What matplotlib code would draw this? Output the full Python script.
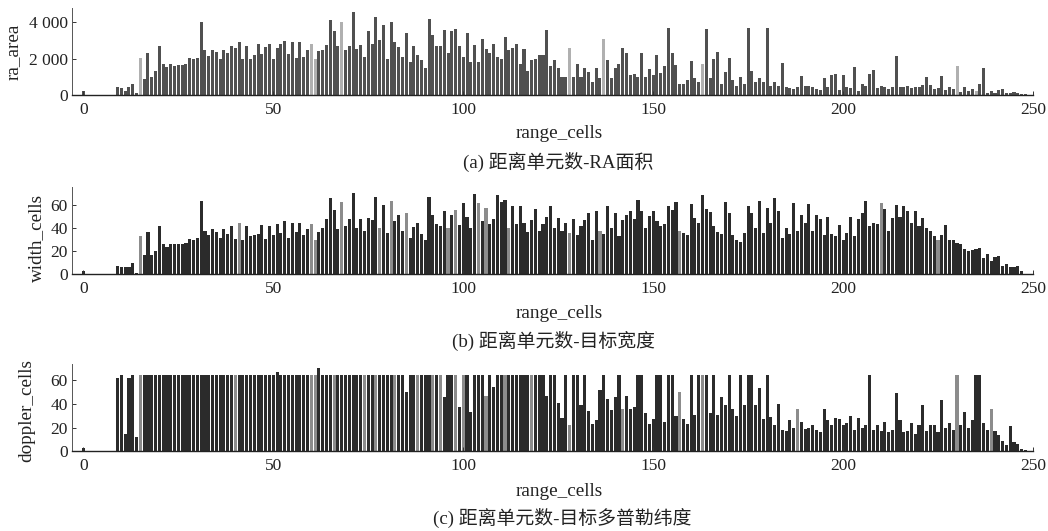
#!/usr/bin/env python3

import matplotlib
matplotlib.use("Agg")
import matplotlib.pyplot as plt
from matplotlib.ticker import FuncFormatter

# one value per range cell
ra_area = [
    200, 0, 0, 0, 0, 0, 0, 0, 0, 420,
    350, 180, 420, 600, 100, 2050, 850, 2300, 1000, 1300,
    2700, 1700, 1550, 1700, 1600, 1650, 1650, 1700, 2050, 1950,
    2050, 4020, 2500, 2150, 2500, 2350, 2000, 2500, 2300, 2700,
    2600, 2900, 1950, 2700, 2000, 2200, 2800, 2250, 2650, 2800,
    2000, 2600, 2800, 2950, 2250, 2900, 2050, 2900, 2100, 2500,
    2800, 1950, 2400, 2500, 2750, 4150, 3550, 2700, 4000, 2450,
    2700, 4590, 2550, 2750, 2100, 3500, 2800, 4310, 3050, 3850,
    2000, 4010, 2900, 2650, 2100, 3420, 1800, 2700, 2200, 1900,
    1500, 4190, 3280, 2700, 2700, 3600, 2300, 3500, 3650, 2700,
    2100, 3400, 1800, 2750, 1800, 3100, 2550, 2300, 2800, 2100,
    2000, 3170, 2450, 2600, 2800, 1700, 2550, 1300, 1900, 1950,
    2200, 2200, 3570, 1600, 1900, 1500, 1000, 1000, 2580, 1000,
    1700, 1000, 1500, 1250, 700, 1500, 900, 3100, 1900, 900,
    1500, 1700, 2600, 2300, 1100, 1150, 1000, 2300, 1000, 1400,
    1100, 2200, 1200, 1600, 3700, 2300, 1650, 600, 600, 800,
    1850, 900, 700, 1700, 3660, 900, 1950, 2350, 600, 1250,
    2050, 800, 500, 1000, 600, 3700, 1300, 700, 900, 700,
    3700, 500, 700, 500, 1750, 400, 350, 300, 400, 1050,
    500, 500, 400, 300, 250, 900, 400, 1100, 1150, 250,
    1100, 400, 350, 1530, 200, 600, 500, 1170, 1370, 350,
    500, 400, 300, 400, 2130, 450, 400, 500, 350, 400,
    450, 550, 1000, 550, 300, 350, 1030, 250, 400, 300,
    1600, 150, 400, 200, 300, 200, 600, 1500, 100, 200,
    100, 250, 300, 80, 100, 150, 100, 50, 40, 0,
]
width_cells = [
    3, 0, 0, 0, 0, 0, 0, 0, 0, 7,
    6, 6, 6, 10, 1, 33, 17, 37, 17, 20,
    42, 26, 24, 26, 26, 26, 26, 27, 31, 30,
    32, 64, 38, 34, 39, 37, 32, 39, 35, 42,
    31, 45, 30, 42, 33, 34, 35, 43, 31, 42,
    34, 44, 36, 46, 32, 45, 37, 45, 34, 39,
    44, 30, 37, 40, 48, 66, 56, 39, 63, 42,
    48, 71, 40, 48, 38, 49, 47, 67, 40, 60,
    36, 64, 46, 52, 38, 53, 32, 41, 45, 35,
    30, 67, 52, 44, 42, 55, 40, 52, 56, 43,
    62, 50, 40, 70, 62, 46, 58, 44, 48, 69,
    63, 65, 40, 59, 44, 59, 45, 37, 47, 57,
    38, 44, 50, 59, 40, 49, 38, 45, 36, 48,
    34, 42, 47, 53, 30, 55, 38, 35, 59, 40,
    53, 33, 47, 52, 55, 48, 65, 55, 40, 51,
    55, 46, 42, 44, 59, 56, 63, 38, 36, 34,
    61, 49, 45, 69, 57, 54, 42, 37, 35, 63,
    53, 34, 30, 28, 36, 59, 53, 40, 64, 36,
    58, 45, 66, 55, 32, 40, 35, 62, 38, 52,
    45, 61, 38, 52, 48, 34, 50, 35, 33, 43,
    30, 36, 50, 33, 48, 53, 64, 42, 45, 44,
    62, 57, 38, 49, 60, 50, 59, 55, 45, 55,
    42, 49, 40, 38, 33, 30, 34, 43, 30, 30,
    27, 26, 22, 20, 21, 22, 23, 14, 18, 12,
    15, 16, 7, 9, 6, 6, 7, 3, 0, 0,
]
doppler_cells = [
    3, 0, 0, 0, 0, 0, 0, 0, 0, 62,
    64, 15, 62, 64, 12, 64, 64, 64, 64, 64,
    64, 64, 64, 64, 64, 64, 64, 64, 64, 64,
    64, 64, 64, 64, 64, 64, 64, 64, 64, 64,
    64, 64, 64, 64, 64, 64, 64, 64, 64, 64,
    64, 67, 64, 64, 64, 64, 64, 64, 64, 64,
    64, 64, 70, 64, 64, 64, 64, 64, 64, 64,
    64, 64, 64, 64, 64, 64, 64, 64, 64, 64,
    64, 64, 64, 64, 64, 50, 64, 64, 64, 64,
    64, 64, 64, 64, 64, 46, 64, 64, 64, 37,
    64, 64, 33, 64, 64, 64, 47, 64, 54, 64,
    64, 64, 64, 64, 64, 64, 64, 64, 64, 64,
    64, 64, 47, 64, 64, 41, 28, 64, 22, 64,
    64, 39, 64, 34, 23, 26, 52, 64, 44, 35,
    46, 64, 36, 47, 36, 37, 64, 64, 32, 23,
    27, 64, 64, 25, 64, 64, 30, 50, 27, 23,
    64, 31, 64, 64, 64, 32, 64, 31, 46, 39,
    64, 36, 30, 64, 39, 64, 64, 39, 53, 27,
    64, 29, 22, 40, 18, 17, 26, 20, 36, 25,
    19, 20, 22, 18, 16, 36, 26, 22, 28, 27,
    22, 24, 30, 18, 28, 20, 22, 64, 18, 22,
    17, 25, 16, 18, 49, 26, 16, 17, 24, 15,
    22, 39, 17, 22, 22, 16, 43, 20, 24, 18,
    64, 22, 33, 20, 26, 64, 64, 24, 18, 36,
    17, 14, 9, 5, 21, 8, 6, 2, 1, 0,
]
cells = list(range(len(ra_area)))

x_ticks = [0, 50, 100, 150, 200, 250]
y_labels = ["ra_area", "width_cells", "doppler_cells"]
captions = [
    "(a) 距离单元数-RA面积",
    "(b) 距离单元数-目标宽度",
    "(c) 距离单元数-目标多普勒纬度",
]

# cells printed lighter in the original
light_a = [15, 60, 61, 68, 128, 137, 163, 230, 235]
light_b = [15, 41, 60, 61, 68, 78, 81, 85, 96, 98, 104, 106, 112, 128, 136, 157, 210, 225]
light_c = [15, 40, 60, 61, 66, 74, 77, 82, 88, 92, 94, 98, 100, 106, 111, 118, 128,
           142, 157, 163, 188, 230, 239]

W, H = 1048, 531
plt.rcParams["font.family"] = ["Liberation Serif", "Noto Sans CJK SC"]
text_color = "#222222"


def sp_format(v, pos):
    return f"{int(v):,}".replace(",", " ")


def draw_panel(box, y, ylim, yticks, ylabel, light, dark, gray, ylab_x, ylab_y, bar_w):
    left, top, right, base = box
    ax = fig.add_axes([left / W, 1 - base / H, (right - left) / W, (base - top) / H])
    colors = [gray if c in light else dark for c in cells]
    ax.bar(cells, y, width=bar_w, color=colors, linewidth=0)
    ax.set_xlim(-3, 250)
    ax.set_ylim(0, ylim)
    ax.set_xticks(x_ticks)
    ax.set_yticks(yticks)
    ax.yaxis.set_major_formatter(FuncFormatter(sp_format))
    ax.tick_params(direction="in", length=3, width=0.7, labelsize=12.5, color="#333333",
                   labelcolor=text_color)
    ax.tick_params(axis="x", pad=5)
    ax.tick_params(axis="y", pad=3)
    ax.spines["top"].set_visible(False)
    ax.spines["right"].set_visible(False)
    ax.spines["left"].set_linewidth(0.7)
    ax.spines["left"].set_color("#555555")
    ax.spines["bottom"].set_linewidth(1.0)
    ax.spines["bottom"].set_color("#222222")
    fig.text(ylab_x / W, 1 - ylab_y / H, ylabel, rotation=90, fontsize=13.8,
             ha="center", va="center", color=text_color)
    return ax


fig = plt.figure(figsize=(W / 100, H / 100), dpi=100)

draw_panel((72, 8, 1033, 94.7), ra_area, 4800, [0, 2000, 4000], y_labels[0],
           light_a, "#505050", "#b0b0b0", 13, 52, 0.8)
draw_panel((72, 187.5, 1033, 274.3), width_cells, 75.5, [0, 20, 40, 60], y_labels[1],
           light_b, "#2b2b2b", "#8c8c8c", 37, 238, 0.82)
draw_panel((72, 364.3, 1033, 451.3), doppler_cells, 73.4, [0, 20, 40, 60], y_labels[2],
           light_c, "#2b2b2b", "#8c8c8c", 27, 411, 0.82)

for x, y, txt in [(559, 133, "range_cells"), (559, 313, "range_cells"), (559, 491, "range_cells")]:
    fig.text(x / W, 1 - y / H, txt, fontsize=13.8, ha="center", va="center", color=text_color)

for x, y, txt in [(558, 162, captions[0]), (553, 341, captions[1]), (562, 518, captions[2])]:
    fig.text(x / W, 1 - y / H, txt, fontsize=13.6, ha="center", va="center", color=text_color)

fig.savefig("out.png", dpi=100)
